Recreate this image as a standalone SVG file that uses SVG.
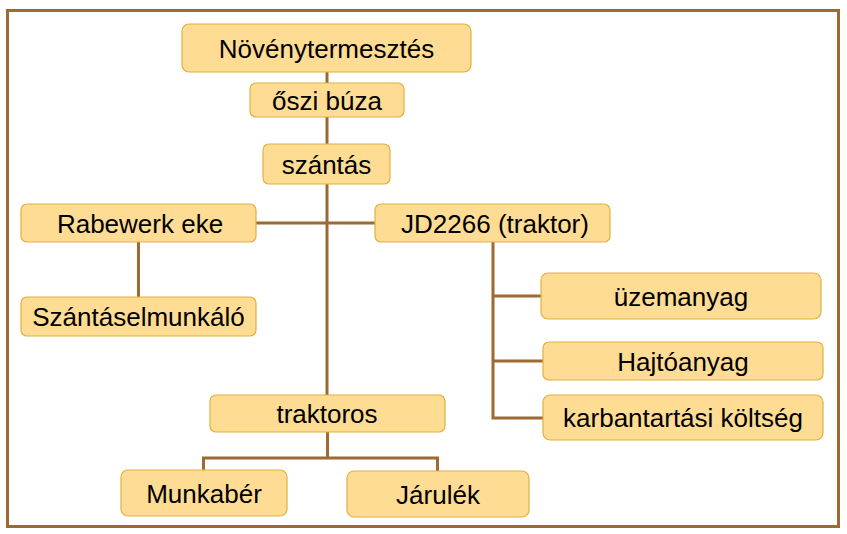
<svg xmlns="http://www.w3.org/2000/svg" width="847" height="534" viewBox="0 0 847 534">
<style>
.n rect{fill:#fedc94;stroke:#e0b040;stroke-width:1.2}
.n text{font-family:"Liberation Sans",Arial,sans-serif;font-size:26px;fill:#000;text-anchor:middle}
.c{stroke:#9b6a35;stroke-width:3;fill:none}
</style>
<rect x="0" y="0" width="847" height="534" fill="#fff"/>
<rect x="7.5" y="10.5" width="831" height="516" fill="none" stroke="#9b6a35" stroke-width="3"/>
<g id="connectors">
<path class="c" d="M327 72V395"/>
<path class="c" d="M256 223H375"/>
<path class="c" d="M138.5 242V297"/>
<path class="c" d="M493 242V418H543M493 296H541M493 361H543"/>
<path class="c" d="M327.5 432V458M203.5 470V458H437.5V471"/>
</g>
<g id="n1" class="n"><rect x="182" y="24" width="289" height="48" rx="7"/><text x="326.5" y="57.5">Növénytermesztés</text></g>
<g id="n2" class="n"><rect x="250" y="83" width="154" height="34" rx="6"/><text x="327" y="109.5">őszi búza</text></g>
<g id="n3" class="n"><rect x="263" y="144" width="127" height="40" rx="6"/><text x="326.5" y="173.5">szántás</text></g>
<g id="n4" class="n"><rect x="21" y="204" width="235" height="38" rx="6"/><text x="140" y="232.5">Rabewerk eke</text></g>
<g id="n5" class="n"><rect x="21" y="297" width="235" height="39" rx="6"/><text x="138.5" y="326">Szántáselmunkáló</text></g>
<g id="n6" class="n"><rect x="375" y="204" width="235" height="38" rx="6"/><text x="495" y="232.5">JD2266 (traktor)</text></g>
<g id="n7" class="n"><rect x="541" y="273" width="280" height="46" rx="7"/><text x="681" y="305.5">üzemanyag</text></g>
<g id="n8" class="n"><rect x="543" y="342" width="280" height="38" rx="6"/><text x="683" y="370.5">Hajtóanyag</text></g>
<g id="n9" class="n"><rect x="543" y="395" width="280" height="45" rx="7"/><text x="683" y="427">karbantartási költség</text></g>
<g id="n10" class="n"><rect x="210" y="395" width="235" height="37" rx="6"/><text x="327" y="422.5">traktoros</text></g>
<g id="n11" class="n"><rect x="121" y="470" width="166" height="46" rx="7"/><text x="204" y="502.5">Munkabér</text></g>
<g id="n12" class="n"><rect x="347" y="471" width="182" height="46" rx="7"/><text x="438" y="503.5">Járulék</text></g>
</svg>
